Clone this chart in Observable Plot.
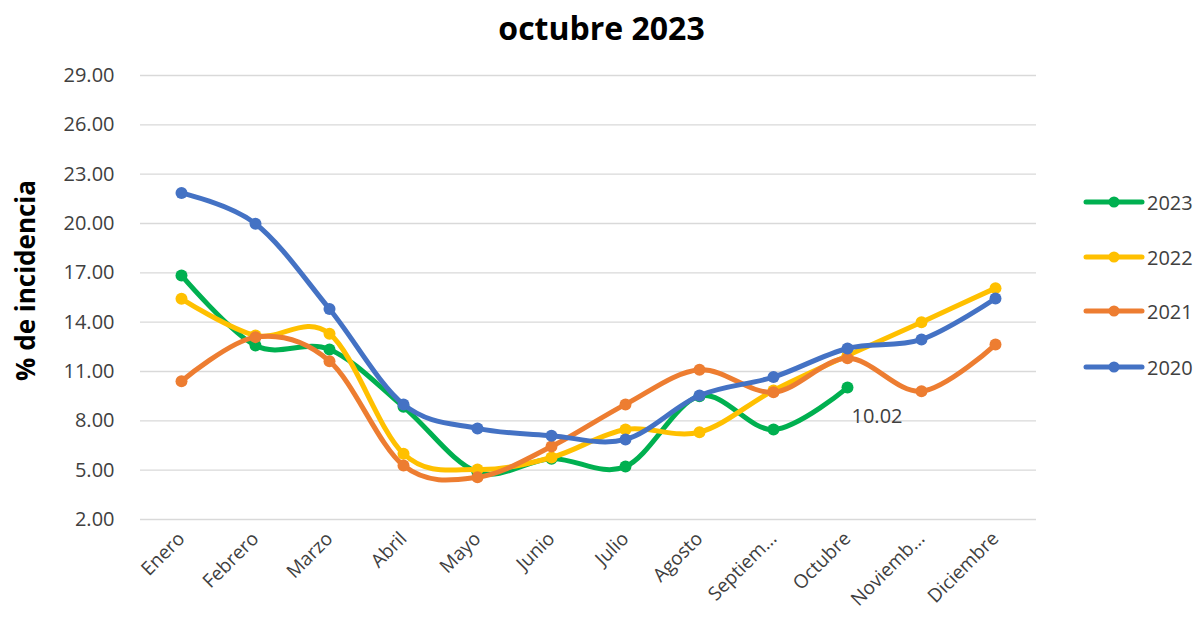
<!DOCTYPE html>
<html><head><meta charset="utf-8">
<script src="https://cdn.jsdelivr.net/npm/d3@7"></script>
<script src="https://cdn.jsdelivr.net/npm/@observablehq/plot@0.6"></script>
<style>
body{margin:0;background:#fff;font-family:"Open Sans",sans-serif;}
#wrap{position:relative;width:1203px;height:625px;overflow:hidden;}
#title{height:55px;line-height:55px;text-align:center;font-weight:700;font-size:32px;color:#000;}
#legend{position:absolute;left:0;top:0;}
.li{position:absolute;display:flex;align-items:center;white-space:nowrap;font-size:20px;color:#404040;}
.li svg{display:block;}
</style></head><body>
<div id="wrap"><div id="title">octubre 2023</div><div id="chart"></div><div id="legend"></div></div>
<script>
const months = ["Enero","Febrero","Marzo","Abril","Mayo","Junio","Julio","Agosto","Septiem...","Octubre","Noviemb...","Diciembre"];
const years = ["2023","2022","2021","2020"];
const colors = ["#00b050","#ffc000","#ed7d31","#4472c4"];
const v2023 = [16.84, 12.58, 12.34, 8.85, 4.88, 5.70, 5.22, 9.50, 7.47, 10.02];
const v2022 = [15.42, 13.19, 13.30, 6.00, 5.04, 5.77, 7.47, 7.31, 9.85, 11.97, 14.00, 16.07];
const v2021 = [10.41, 13.09, 11.63, 5.28, 4.57, 6.44, 9.00, 11.10, 9.74, 11.80, 9.80, 12.64];
const v2020 = [21.85, 19.99, 14.80, 9.00, 7.54, 7.10, 6.87, 9.54, 10.66, 12.40, 12.95, 15.44];
const yTicks = [2, 5, 8, 11, 14, 17, 20, 23, 26, 29];
const yLabel = "% de incidencia";
const labelMonth = "Octubre";

const series = [v2023, v2022, v2021, v2020];
const rows = [];
series.forEach((vals, i) => vals.forEach((v, j) => rows.push({year: years[i], month: months[j], value: v})));

const marks = [
  Plot.gridY(yTicks, {stroke: "#d9d9d9", strokeOpacity: 1, strokeWidth: 1.3})
];
years.forEach((yr, i) => {
  const d = rows.filter(r => r.year === yr);
  marks.push(Plot.line(d, {x: "month", y: "value", stroke: colors[i], strokeWidth: 5, curve: "cardinal", strokeLinecap: "round", strokeLinejoin: "round"}));
  marks.push(Plot.dot(d, {x: "month", y: "value", fill: colors[i], r: 6}));
});
marks.push(Plot.text(rows.filter(r => r.year === "2023" && r.month === labelMonth), {
  x: "month", y: "value", text: d => d.value.toFixed(2), textAnchor: "start", dx: 4, dy: 29, fontSize: 20, fill: "#404040"
}));
marks.push(Plot.axisY(yTicks, {tickFormat: d => d.toFixed(2), tickSize: 0, tickPadding: 26, fontSize: 20, fill: "#404040", label: null}));
marks.push(Plot.axisX({tickSize: 0, tickRotate: -45, tickPadding: 16, fontSize: 19, fill: "#404040", label: null}));
marks.push(Plot.text([yLabel], {frameAnchor: "left", text: d => d, textAnchor: "middle", rotate: -90, dx: -114, dy: -17, fontWeight: "bold", fontSize: 26, fill: "#000"}));

const chart = Plot.plot({
  width: 1203, height: 570,
  marginLeft: 140, marginRight: 167, marginTop: 20, marginBottom: 106,
  x: {type: "point", domain: months, padding: 0.5},
  y: {domain: [2, 29]},
  style: {fontFamily: "'Open Sans', sans-serif", background: "white", overflow: "visible"},
  marks
});
document.getElementById("chart").appendChild(chart);

const legend = document.getElementById("legend");
const legendY = [202, 257, 311, 367];
years.forEach((yr, i) => {
  const item = document.createElement("div");
  item.className = "li";
  item.style.left = "1083px";
  item.style.top = (legendY[i] - 14) + "px";
  item.style.height = "28px";
  item.innerHTML = `<svg width="62" height="14"><line x1="3" y1="7" x2="59" y2="7" stroke="${colors[i]}" stroke-width="5" stroke-linecap="round"/><circle cx="31" cy="7" r="5.5" fill="${colors[i]}"/></svg><span style="margin-left:2px">${yr}</span>`;
  legend.appendChild(item);
});
</script>
</body></html>
